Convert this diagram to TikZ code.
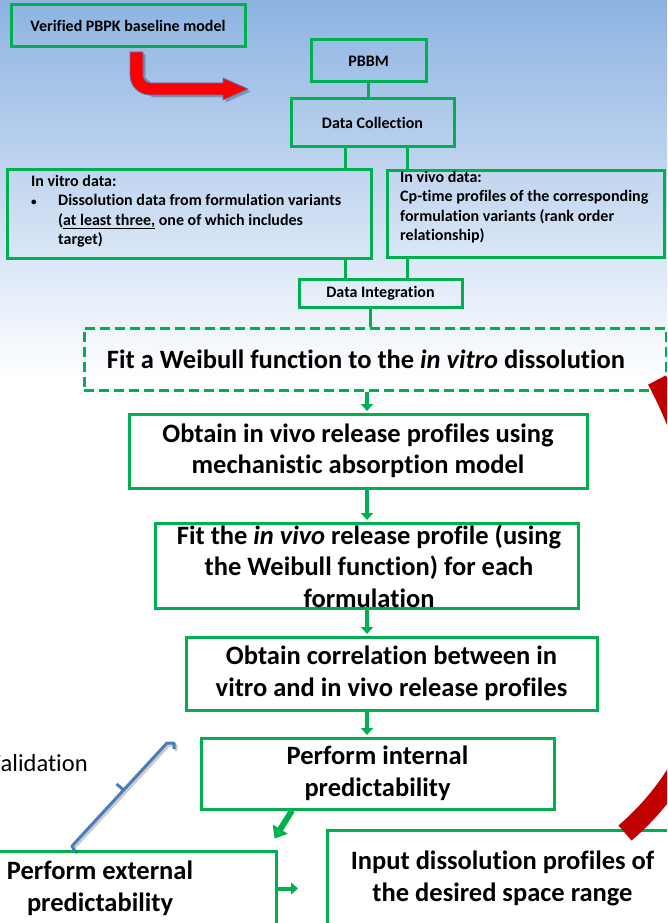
\documentclass[tikz,border=0pt]{standalone}
\usepackage{fontspec}
\setmainfont{Carlito}[Ligatures={NoCommon}]
\usetikzlibrary{arrows.meta,calc}
\definecolor{flowgreen}{HTML}{00B050}
\definecolor{skytop}{HTML}{8DB3E2}
\definecolor{bracketblue}{HTML}{4A7EBB}
\definecolor{darkred}{HTML}{C00000}

\begin{document}
\begin{tikzpicture}[x=1pt,y=-1pt,
  box/.style={draw=flowgreen, line width=3pt, rectangle, inner sep=0pt},
  dbox/.style={box, dash pattern=on 10pt off 5pt},
  link/.style={draw=flowgreen, line width=3pt},
  flow/.style={draw=flowgreen, line width=4pt, shorten >=1.5pt,
    -{Triangle[width=12pt,length=7pt]}},
  small/.style={font=\fontsize{16}{19.3}\selectfont\bfseries, inner sep=0pt},
  medium/.style={font=\fontsize{16}{19}\selectfont\bfseries},
  big/.style={font=\fontsize{26.5}{31.5}\selectfont\bfseries, align=center},
]
% page frame and sky gradient
\clip (0,0) rectangle (667,923);
\fill[white] (0,0) rectangle (667,923);
\shade[top color=skytop, bottom color=white] (0,0) rectangle (667,380);

% upper part of the flow
\node[box, medium, minimum width=234pt, minimum height=42pt] (verified) at (128,26) {Verified PBPK baseline model};
\node[box, medium, minimum width=115pt, minimum height=42pt] (pbbm) at (368.5,61) {PBBM};
\node[box, medium, minimum width=163pt, minimum height=47pt, text depth=-2pt] (datacoll) at (372.5,122.5) {Data Collection};

\node[box, minimum width=364pt, minimum height=89pt] (invitro) at (189,213.5) {};
\node[small, anchor=north west, align=left] (invitrotext) at (31,175)
  {In vitro data:\\
   \makebox[27pt][l]{\fontsize{11}{11}\selectfont\textbullet}Dissolution data from formulation variants\\
   \hspace*{27pt}(\underline{at least three,} one of which includes\\
   \hspace*{27pt}target)};

\node[box, minimum width=277pt, minimum height=87pt] (invivo) at (525.5,213.5) {};
\node[small, anchor=north west, align=left] (invivotext) at (400,171)
  {In vivo data:\\
   Cp-time profiles of the corresponding\\
   formulation variants (rank order\\
   relationship)};

\node[box, small, minimum width=163pt, minimum height=28pt] (dataint) at (380.5,293) {Data Integration};

% main sequence
\node[dbox, font=\fontsize{26.5}{31.5}\selectfont\bfseries, minimum width=582pt, minimum height=62pt] (weibull) at (375,359)
  {Fit a Weibull function to the \textit{in vitro} dissolution\hspace*{18pt}};
\node[box, big, minimum width=458pt, minimum height=74pt] (obtain) at (358,451)
  {Obtain in vivo release profiles using\\mechanistic absorption model};
\node[box, minimum width=423pt, minimum height=85pt] (fitvivo) at (366.5,565.5) {};
\node[big, inner sep=0pt] (fitvivotext) at (369,566)
  {Fit the \textit{in vivo} release profile (using\\the Weibull function) for each\\formulation};
\node[box, big, minimum width=411pt, minimum height=73pt] (correl) at (391.5,673.5)
  {Obtain correlation between in\\vitro and in vivo release profiles};
\node[box, big, minimum width=353pt, minimum height=71pt] (internal) at (377.5,773.5)
  {Perform internal\\predictability};
\node[box, big, minimum width=352pt, minimum height=75pt] (external) at (100,888.5)
  {Perform external\\predictability};
\node[box, big, minimum width=351pt, minimum height=97pt] (input) at (502.5,878.5)
  {Input dissolution profiles of\\the desired space range};

% side label running off the left edge
\node[font=\fontsize{24.5}{28}\selectfont, inner sep=0pt, anchor=west] (valtext) at (0.5,763) {\llap{V}alidation};

% connector columns
\coordinate (xa) at (345,0);
\coordinate (xb) at (407.5,0);
\coordinate (xc) at (370,0);
\coordinate (xm) at (367,0);

\draw[link] (pbbm.south) -- (pbbm.south |- datacoll.north);
\draw[link] (datacoll.south -| xa) -- (invitro.north -| xa);
\draw[link] (datacoll.south -| xb) -- (invivo.north -| xb);
\draw[link] (invitro.south -| xa) -- (dataint.north -| xa);
\draw[link] (invivo.south -| xb) -- (dataint.north -| xb);
\draw[link] (dataint.south -| xc) -- (weibull.north -| xc);

\draw[flow] (weibull.south -| xm) -- (obtain.north -| xm);
\draw[flow] (obtain.south -| xm) -- (fitvivo.north -| xm);
\draw[flow] (fitvivo.south -| xm) -- (correl.north -| xm);
\draw[flow] (correl.south -| xm) -- (internal.north -| xm);
\draw[flow, line width=6pt, shorten >=0pt, -{Triangle[width=17pt,length=11pt]}]
  ($(internal.south)+(-85.5,0)$) -- ($(external.north east)+(-3,-11)$);
\draw[flow] (external.east) -- ([xshift=-26pt]input.west |- external.east);

% bent red arrow below the baseline model
\fill[black, opacity=0.25] ([shift={(2.5,2.5)}]130,52) -- +(0,23) -- +(3,30) -- +(20,43) -- +(93,43) -- +(93,48) -- +(118,37) -- +(93,26) -- +(93,31) -- +(21,31) -- +(13,23) -- +(13,0) -- cycle;
\filldraw[fill=red, draw=bracketblue, line width=0.8pt]
  (130,52) -- (130,75) .. controls (130,86) and (139,95) .. (150,95) -- (223,95)
  -- (223,100) -- (248,89) -- (223,78) -- (223,83) -- (151,83)
  .. controls (146.6,83) and (143,79.4) .. (143,75) -- (143,52) -- cycle;

% blue bracket
\begin{scope}[shift={(2,2)}]
\draw[black, opacity=0.2, line width=3pt, line join=round]
  (174,749) -- (174,743) -- (167,743) -- (72,846) -- (75,852);
\end{scope}
\draw[bracketblue, line width=3pt, line join=round]
  (174,749) -- (174,743) -- (167,743) -- (72,846) -- (75,852);
\draw[bracketblue, line width=3pt] (123.7,790) -- (116.5,784);

% dark red return arc along the right edge
\draw[darkred, line width=20pt] (625,833) .. controls (780,700) and (705,470) .. (657,380);
\end{tikzpicture}
\end{document}
